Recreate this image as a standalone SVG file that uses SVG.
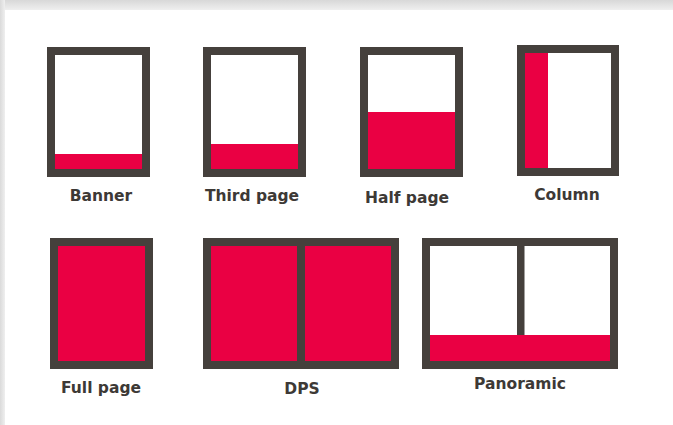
<svg xmlns="http://www.w3.org/2000/svg" width="673" height="425" viewBox="0 0 673 425">
<defs>
<linearGradient id="gTop" x1="0" y1="0" x2="0" y2="1"><stop offset="0" stop-color="#d8d8d8"/><stop offset="1" stop-color="#efefef"/></linearGradient>
<linearGradient id="gLeft" x1="0" y1="0" x2="1" y2="0"><stop offset="0" stop-color="#dadada"/><stop offset="1" stop-color="#efefef"/></linearGradient>
</defs>
<style>
.frame{fill:#ffffff;stroke:#45403c;stroke-width:8}
.ad{fill:#ea0043}
.div{fill:#45403c}
.lbl{font-family:"DejaVu Sans",sans-serif;font-weight:700;font-size:15.5px;fill:#3d3936;text-anchor:middle}
</style>
<rect x="0" y="0" width="673" height="425" fill="#f0f0f0"/>
<rect x="0" y="0" width="673" height="10" fill="url(#gTop)"/>
<rect x="0" y="0" width="5" height="425" fill="url(#gLeft)"/>
<rect x="5" y="10" width="668" height="415" fill="#ffffff"/>
<g id="connectors"/>
<g id="banner">
<rect class="frame" x="51" y="51" width="95" height="122"/>
<rect class="ad" x="55" y="154" width="87" height="15"/>
<text class="lbl" x="101" y="200.5">Banner</text>
</g>
<g id="third-page">
<rect class="frame" x="207" y="51" width="95" height="122"/>
<rect class="ad" x="211" y="144" width="87" height="25"/>
<text class="lbl" x="252" y="200.5">Third page</text>
</g>
<g id="half-page">
<rect class="frame" x="364" y="51" width="95" height="122"/>
<rect class="ad" x="368" y="112" width="87" height="57"/>
<text class="lbl" x="407" y="203">Half page</text>
</g>
<g id="column">
<rect class="frame" x="521" y="49" width="94" height="123"/>
<rect class="ad" x="525" y="53" width="23" height="115"/>
<text class="lbl" x="567" y="199.5">Column</text>
</g>
<g id="full-page">
<rect class="frame" x="54" y="242" width="95" height="123"/>
<rect class="ad" x="58" y="246" width="87" height="115"/>
<text class="lbl" x="101" y="392.5">Full page</text>
</g>
<g id="dps">
<rect class="frame" x="207" y="242" width="188" height="123"/>
<rect class="ad" x="211" y="246" width="86" height="115"/>
<rect class="ad" x="305" y="246" width="86" height="115"/>
<rect class="div" x="297" y="242" width="8" height="123"/>
<text class="lbl" x="302" y="394">DPS</text>
</g>
<g id="panoramic">
<rect class="frame" x="426" y="242" width="188" height="123"/>
<rect class="div" x="517" y="242" width="7.5" height="123"/>
<rect class="ad" x="430" y="335" width="180" height="26"/>
<text class="lbl" x="520" y="389">Panoramic</text>
</g>
</svg>
